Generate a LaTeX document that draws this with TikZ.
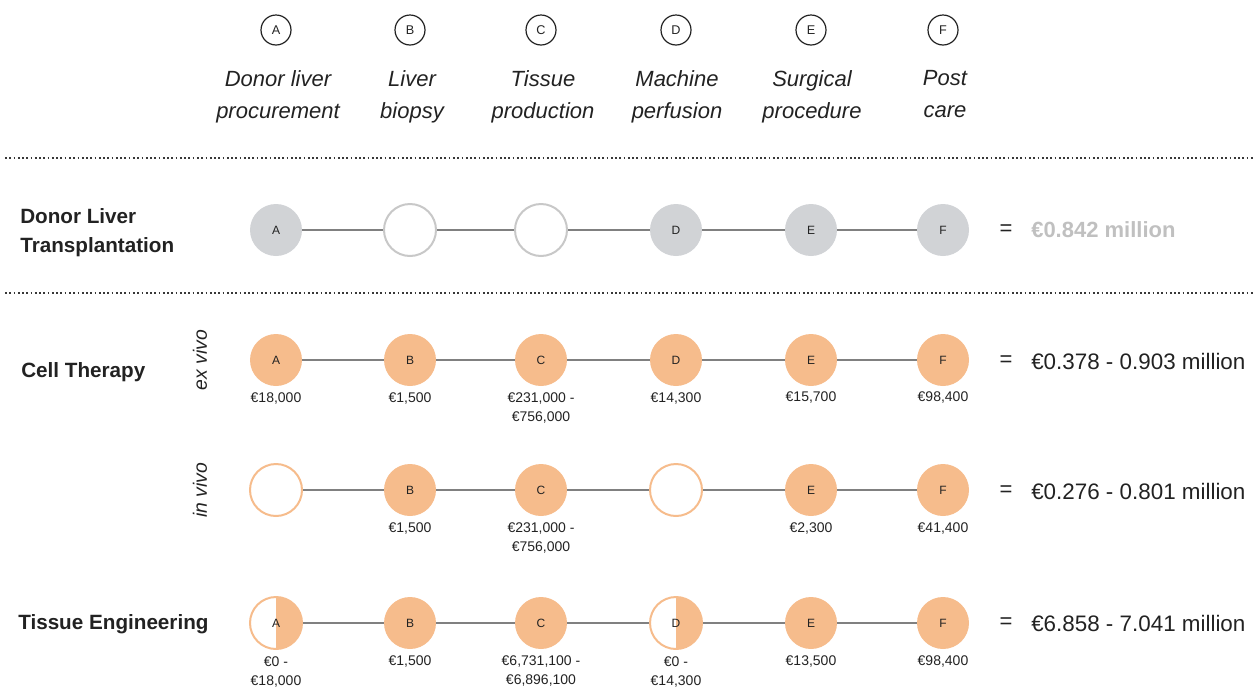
\documentclass[tikz,border=0pt]{standalone}
\usepackage{fontspec}
\setmainfont{Liberation Sans}
\usetikzlibrary{positioning}

\definecolor{costorange}{RGB}{246,188,140}
\definecolor{stagegray}{RGB}{209,211,214}
\definecolor{linkgray}{RGB}{128,128,128}
\definecolor{emptygray}{RGB}{200,200,200}
\definecolor{totalgray}{RGB}{192,192,192}
\definecolor{inkgray}{RGB}{34,34,34}

\begin{document}
\begin{tikzpicture}[x=0.75pt,y=-0.75pt,
    every node/.style={text=inkgray},
    head/.style={circle,draw=inkgray,line width=0.9pt,minimum size=22.5pt,inner sep=0pt,font=\fontsize{9.5}{9.5}\selectfont},
    headtext/.style={anchor=north,align=center,inner sep=0pt,font=\fontsize{16.5}{24}\selectfont\itshape,
        execute at begin node=\strut,execute at end node=\strut},
    stage/.style={circle,minimum size=39pt,inner sep=0pt,font=\fontsize{9}{9}\selectfont},
    graystage/.style={stage,fill=stagegray},
    grayempty/.style={stage,draw=emptygray,line width=1.5pt,fill=white},
    paid/.style={stage,fill=costorange},
    unpaid/.style={stage,draw=costorange,line width=1.5pt,fill=white},
    halfpaid/.style={stage,draw=costorange,line width=1.5pt,fill=white,
        path picture={\fill[costorange] (path picture bounding box.north) rectangle (path picture bounding box.south east);}},
    link/.style={draw=linkgray,line width=2.2pt},
    cost/.style={anchor=north,inner sep=0pt,align=center,font=\fontsize{10.5}{14.25}\selectfont},
    rowname/.style={anchor=west,align=left,inner sep=0pt,font=\fontsize{15.5}{21.75}\selectfont\bfseries},
    mode/.style={rotate=90,inner sep=0pt,font=\fontsize{14.5}{14.5}\selectfont\itshape},
    equals/.style={inner sep=0pt,font=\fontsize{16.5}{16.5}\selectfont},
    total/.style={anchor=west,inner sep=0pt,font=\fontsize{16.8}{16.8}\selectfont},
    separator/.style={draw=inkgray!90,line width=1.2pt,dash pattern=on 1.3pt off 1.9pt}
]
\useasboundingbox (0,0) rectangle (1258,690);

% stage headers
\node[head] (hA) at (276,30) {A};
\node[head] (hB) at (410,30) {B};
\node[head] (hC) at (541,30) {C};
\node[head] (hD) at (676,30) {D};
\node[head] (hE) at (811,30) {E};
\node[head] (hF) at (943,30) {F};
\node[headtext] (lA) at (278,70) {Donor liver\\procurement};
\node[headtext] (lB) at (412,70) {Liver\\biopsy};
\node[headtext] (lC) at (543,70) {Tissue\\production};
\node[headtext] (lD) at (677,70) {Machine\\perfusion};
\node[headtext] (lE) at (812,70) {Surgical\\procedure};
\node[headtext] (lF) at (945,70) {Post\\care};

\draw[separator] (5,158) -- (1253,158);
\draw[separator] (5,293) -- (1253,293);

% donor liver transplantation
\node[rowname] (rDLT) at (20,233) {Donor Liver\\Transplantation};
\node[graystage] (dA) at (276,230) {A};
\node[grayempty] (dB) at (410,230) {};
\node[grayempty] (dC) at (541,230) {};
\node[graystage] (dD) at (676,230) {D};
\node[graystage] (dE) at (811,230) {E};
\node[graystage] (dF) at (943,230) {F};
\foreach \p/\q in {A/B,B/C,C/D,D/E,E/F}
    \draw[link] (d\p) -- (d\q);
\node[equals] (eqD) at (1006,230) {=};
\node[total,text=totalgray,font=\fontsize{16.5}{16.5}\selectfont\bfseries] (totD) at (1031,230) {€0.842 million};

% cell therapy, ex vivo
\node[rowname] (rCT) at (21,372) {Cell Therapy};
\node[mode] (mEx) at (200,360) {ex vivo};
\node[paid] (xA) at (276,360) {A};
\node[paid] (xB) at (410,360) {B};
\node[paid] (xC) at (541,360) {C};
\node[paid] (xD) at (676,360) {D};
\node[paid] (xE) at (811,360) {E};
\node[paid] (xF) at (943,360) {F};
\foreach \p/\q in {A/B,B/C,C/D,D/E,E/F}
    \draw[link] (x\p) -- (x\q);
\node[cost,below=5pt of xA] (cxA) {€18,000};
\node[cost,below=5pt of xB] (cxB) {€1,500};
\node[cost,below=5pt of xC] (cxC) {€231,000 -\\€756,000};
\node[cost,below=5pt of xD] (cxD) {€14,300};
\node[cost,below=4pt of xE] (cxE) {€15,700};
\node[cost,below=4pt of xF] (cxF) {€98,400};
\node[equals] (eqX) at (1006,361) {=};
\node[total] (totX) at (1031,361) {€0.378 - 0.903 million};

% cell therapy, in vivo
\node[mode] (mIn) at (200,490) {in vivo};
\node[unpaid] (iA) at (276,490) {};
\node[paid] (iB) at (410,490) {B};
\node[paid] (iC) at (541,490) {C};
\node[unpaid] (iD) at (676,490) {};
\node[paid] (iE) at (811,490) {E};
\node[paid] (iF) at (943,490) {F};
\foreach \p/\q in {A/B,B/C,C/D,D/E,E/F}
    \draw[link] (i\p) -- (i\q);
\node[cost,below=5pt of iB] (ciB) {€1,500};
\node[cost,below=5pt of iC] (ciC) {€231,000 -\\€756,000};
\node[cost,below=5pt of iE] (ciE) {€2,300};
\node[cost,below=5pt of iF] (ciF) {€41,400};
\node[equals] (eqI) at (1006,491) {=};
\node[total] (totI) at (1031,491) {€0.276 - 0.801 million};

% tissue engineering
\node[rowname] (rTE) at (18,624) {Tissue Engineering};
\node[halfpaid] (tA) at (276,623) {A};
\node[paid] (tB) at (410,623) {B};
\node[paid] (tC) at (541,623) {C};
\node[halfpaid] (tD) at (676,623) {D};
\node[paid] (tE) at (811,623) {E};
\node[paid] (tF) at (943,623) {F};
\foreach \p/\q in {A/B,B/C,C/D,D/E,E/F}
    \draw[link] (t\p) -- (t\q);
\node[cost,below=5pt of tA] (ctA) {€0 -\\€18,000};
\node[cost,below=5pt of tB] (ctB) {€1,500};
\node[cost,below=5pt of tC] (ctC) {€6,731,100 -\\€6,896,100};
\node[cost,below=5pt of tD] (ctD) {€0 -\\€14,300};
\node[cost,below=5pt of tE] (ctE) {€13,500};
\node[cost,below=5pt of tF] (ctF) {€98,400};
\node[equals] (eqT) at (1006,623) {=};
\node[total] (totT) at (1031,623) {€6.858 - 7.041 million};
\end{tikzpicture}
\end{document}
